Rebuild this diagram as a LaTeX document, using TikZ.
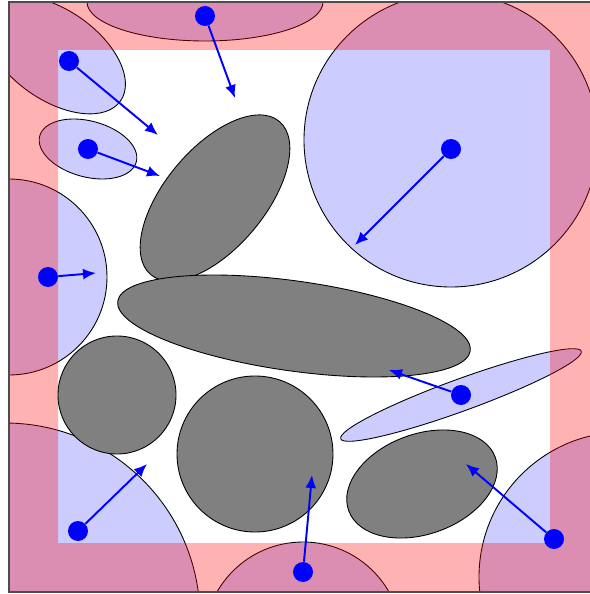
\documentclass[tikz,border=0pt]{standalone}
\usepackage{tikz}
\usetikzlibrary{arrows.meta}

\begin{document}
\begin{tikzpicture}[x=0.02cm, y=-0.02cm,
    cell/.style={fill=blue!20, draw=black, line width=0.5pt},
    grain/.style={fill=gray, draw=black, line width=0.5pt},
    seed/.style={circle, fill=blue, inner sep=0pt, minimum size=0.4cm},
    push/.style={blue, line width=1.1pt, -{Latex[length=2.6mm, width=2.2mm]}}]
  \useasboundingbox (0,0) rectangle (590,594);

  % periodic images, cut to the box
  \begin{scope}
    \clip (9,2) rectangle (599,592);
    \draw[cell] (55,55) ellipse [x radius=80, y radius=45, rotate=-35];
    \draw[cell] (88,149) ellipse [x radius=50, y radius=28, rotate=-15];
    \draw[cell] (9,277) circle [radius=98];
    \draw[cell] (5,618) circle [radius=195];
    \draw[cell] (205,2) ellipse [x radius=118, y radius=39];
    \draw[cell] (451,140) circle [radius=147];
    \draw[cell] (461,395) ellipse [x radius=128, y radius=16, rotate=20];
    \draw[cell] (624,577) circle [radius=145];
    \draw[cell] (303,641) circle [radius=99];
  \end{scope}

  % border layer
  \fill[red, opacity=0.3, even odd rule] (9,2) rectangle (599,592) (58,50) rectangle (550,543);

  % grains inside the cell
  \draw[grain] (215,198) ellipse [x radius=100, y radius=50, rotate=50];
  \draw[grain] (294,326) ellipse [x radius=178, y radius=45, rotate=-8];
  \draw[grain] (117,395) circle [radius=59];
  \draw[grain] (255,454) circle [radius=78];
  \draw[grain] (422,484) ellipse [x radius=78, y radius=50, rotate=20];

  % shifts
  \node[seed] (s1) at (69,61) {};
  \node[seed] (s2) at (88,149) {};
  \node[seed] (s3) at (205,16) {};
  \node[seed] (s4) at (451,149) {};
  \node[seed] (s5) at (48,277) {};
  \node[seed] (s6) at (461,395) {};
  \node[seed] (s7) at (78,531) {};
  \node[seed] (s8) at (303,572) {};
  \node[seed] (s9) at (554,539) {};
  \coordinate (t1) at (158,135);
  \coordinate (t2) at (160,176);
  \coordinate (t3) at (235,98);
  \coordinate (t4) at (355,245);
  \coordinate (t5) at (96,273);
  \coordinate (t6) at (389,370);
  \coordinate (t7) at (147,464);
  \coordinate (t8) at (312,475);
  \coordinate (t9) at (466,464);
  \draw[push] (s1) -- (t1);
  \draw[push] (s2) -- (t2);
  \draw[push] (s3) -- (t3);
  \draw[push] (s4) -- (t4);
  \draw[push] (s5) -- (t5);
  \draw[push] (s6) -- (t6);
  \draw[push] (s7) -- (t7);
  \draw[push] (s8) -- (t8);
  \draw[push] (s9) -- (t9);

  \draw[black!70, line width=0.8pt] (9,2) rectangle (599,592);
\end{tikzpicture}
\end{document}
